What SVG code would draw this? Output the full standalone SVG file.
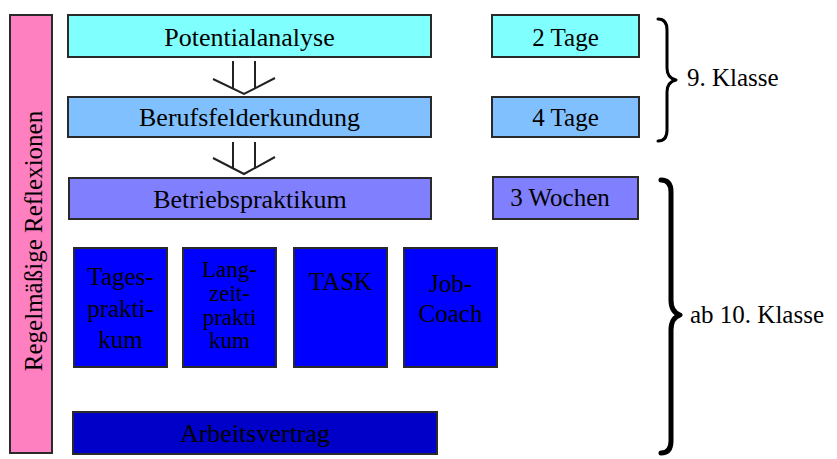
<svg xmlns="http://www.w3.org/2000/svg" width="837" height="459" viewBox="0 0 837 459">
<style>
.box{stroke:#2a2a2a;stroke-width:2}
text{font-family:'Liberation Serif','Times New Roman','DejaVu Serif',serif;font-size:25px;fill:#000}
.t{text-anchor:middle}
.big{font-size:26px}
.arr{fill:none;stroke:#222;stroke-width:2}
.brace{fill:none;stroke:#000;stroke-linecap:round;stroke-linejoin:round}
.lz{font-size:23px}
</style>
<rect width="837" height="459" fill="#fff"/>
<g id="reflexionen">
<rect class="box" x="10" y="15" width="42" height="438" fill="#FF80C0"/>
<text class="t" transform="translate(42,241) rotate(-90)" font-size="27">Regelmäßige Reflexionen</text>
</g>
<g id="potentialanalyse">
<rect class="box" x="68" y="15" width="363" height="42" fill="#80FFFF"/>
<text class="t big" x="249.5" y="46">Potentialanalyse</text>
</g>
<g id="berufsfelderkundung">
<rect class="box" x="68" y="97" width="363" height="40" fill="#80C0FF"/>
<text class="t big" x="249.5" y="126">Berufsfelderkundung</text>
</g>
<g id="betriebspraktikum">
<rect class="box" x="69" y="178" width="362" height="41" fill="#8080FF"/>
<text class="t big" x="250" y="208">Betriebspraktikum</text>
</g>
<g id="tage2">
<rect class="box" x="492" y="15" width="147" height="42" fill="#80FFFF"/>
<text class="t" x="565.5" y="46">2 Tage</text>
</g>
<g id="tage4">
<rect class="box" x="492" y="97" width="147" height="40" fill="#80C0FF"/>
<text class="t" x="565.5" y="126">4 Tage</text>
</g>
<g id="wochen3">
<rect class="box" x="493" y="177" width="145" height="42" fill="#8080FF"/>
<text class="t" x="560" y="206">3 Wochen</text>
</g>
<g id="tagespraktikum">
<rect class="box" x="74" y="248" width="93" height="119" fill="#0000FF"/>
<text class="t" x="120.5" y="285">Tages-</text>
<text class="t" x="120.5" y="317">prakti-</text>
<text class="t" x="120.5" y="348">kum</text>
</g>
<g id="langzeitpraktikum">
<rect class="box" x="183" y="248" width="93" height="119" fill="#0000FF"/>
<text class="t lz" x="229.5" y="277">Lang-</text>
<text class="t lz" x="229.5" y="301">zeit-</text>
<text class="t lz" x="229.5" y="325">prakti</text>
<text class="t lz" x="229.5" y="348">kum</text>
</g>
<g id="task">
<rect class="box" x="294" y="248" width="93" height="119" fill="#0000FF"/>
<text class="t" x="340.5" y="290">TASK</text>
</g>
<g id="jobcoach">
<rect class="box" x="404" y="248" width="93" height="119" fill="#0000FF"/>
<text class="t" x="450.5" y="292">Job-</text>
<text class="t" x="450.5" y="322">Coach</text>
</g>
<g id="arbeitsvertrag">
<rect class="box" x="73" y="412" width="364" height="42" fill="#0000C8"/>
<text class="t big" x="255" y="442">Arbeitsvertrag</text>
</g>
<g id="klasse9">
<text x="687" y="86">9. Klasse</text>
</g>
<g id="klasse10">
<text x="690" y="323">ab 10. Klasse</text>
</g>
<g id="connectors">
<path class="arr" d="M233 61V89M255 61V89M213 79L244 94L275 78"/>
<path class="arr" d="M233 142V169M255 142V169M213 158L244 174L275 157"/>
<path class="brace" stroke-width="3" d="M658 19Q667 19 667 30V68Q667 78 676 80Q667 82 667 92V130Q667 141 658 141"/>
<path class="brace" stroke-width="5" d="M661 180Q671 180 671 192V300Q671 312 680 315Q671 318 671 330V441Q671 453 661 453"/>
</g>
</svg>
